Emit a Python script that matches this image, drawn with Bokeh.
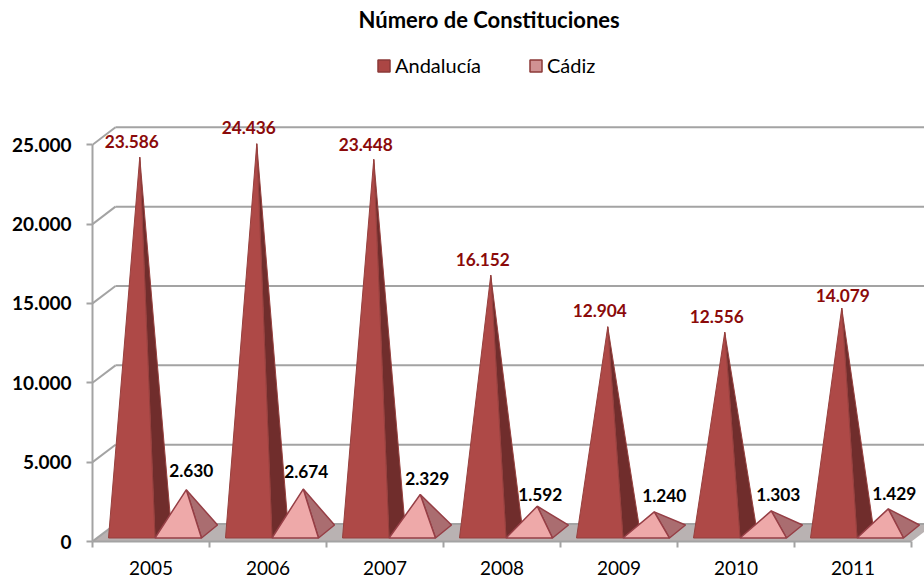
from bokeh.plotting import figure
from bokeh.embed import file_html
from bokeh.resources import INLINE
from bokeh.core.properties import value
from bokeh.models import (ColumnDataSource, Range1d, LinearAxis, FixedTicker, Legend, LegendItem, Title)

years = ["2005", "2006", "2007", "2008", "2009", "2010", "2011"]
andalucia = [23586, 24436, 23448, 16152, 12904, 12556, 14079]
cadiz = [2630, 2674, 2329, 1592, 1240, 1303, 1429]
y_ticks = [0, 5000, 10000, 15000, 20000, 25000]
y_tick_labels = ["0", "5.000", "10.000", "15.000", "20.000", "25.000"]

# pixel nudges of the hand-placed data labels
and_nudge_x = [0, 0, 0, 0, 0, 0, 9]
and_nudge_y = [16, 16, 15, 16, 16, 16, 13]
cad_nudge_x = [5, 3, 7, 3, 10, 7, 6]
cad_nudge_y = [19, 18, 16, 12, 16, 16, 15]

FONT = "Lato"
PX_X = 117.0            # pixels per category
PX_Y = 79.5 / 5000.0    # pixels per unit
WALL_X, WALL_Y = 23 / PX_X, 17.5 / PX_Y       # depth of the chart box
DEP_X, DEP_Y = 16 / PX_X, 13 / PX_Y           # depth of a pyramid base
GAP = 16 / PX_X
BAR = 46.5 / PX_X
LIFT = 3.5 / PX_Y

p = figure(width=924, height=577, output_backend="svg", toolbar_location=None,
           x_axis_type=None, y_axis_type=None,
           x_range=Range1d(0, 832 / PX_X), y_range=Range1d(0, 507 / PX_Y),
           min_border_left=92, min_border_right=0, min_border_top=34, min_border_bottom=36,
           outline_line_color=None, background_fill_color="white", border_fill_color="white")
p.xgrid.visible = False
p.ygrid.visible = False
p.styles = {"position": "absolute", "left": "0px", "top": "0px"}

p.title = Title(text="Número de Constituciones", align="left", offset=266,
                text_font=FONT, text_font_size="22px", text_font_style="bold",
                text_color="black", standoff=6)

GREY = "#a3a3a3"
n = len(years)
# floor
p.patch([0, WALL_X, n + WALL_X, n], [0, WALL_Y, WALL_Y, 0], fill_color="#b9b2b2", line_color=None)
# back wall lines and side wall lines
p.segment([WALL_X] * len(y_ticks), [t + WALL_Y for t in y_ticks],
          [n + WALL_X] * len(y_ticks), [t + WALL_Y for t in y_ticks], line_color=GREY, line_width=2)
p.segment([0] * len(y_ticks), y_ticks, [WALL_X] * len(y_ticks), [t + WALL_Y for t in y_ticks],
          line_color=GREY, line_width=2)


def pyramids(values, slot):
    fx, fy, sx, sy = [], [], [], []
    for i, v in enumerate(values):
        x0 = i + GAP + slot * BAR
        x1 = x0 + BAR
        ax = (x0 + x1) / 2 + DEP_X / 2
        ay = LIFT + DEP_Y / 2 + v
        fx.append([x0, x1, ax])
        fy.append([LIFT, LIFT, ay])
        sx.append([x1, x1 + DEP_X, ax])
        sy.append([LIFT, LIFT + DEP_Y, ay])
    return fx, fy, sx, sy


for i in range(n):
    for slot, vals, cf, cs, edge in [(0, andalucia, "#ae4947", "#702d2c", "#96403e"),
                                     (1, cadiz, "#eea9a9", "#aa6d70", "#963f46")]:
        fx, fy, sx, sy = pyramids(vals, slot)
        p.patch(sx[i], sy[i], fill_color=cs, line_color=edge, line_width=1.5 if slot else 1)
        p.patch(fx[i], fy[i], fill_color=cf, line_color=edge, line_width=1.5 if slot else 1)

# data labels
and_src = ColumnDataSource(dict(
    x=[i + GAP + BAR / 2 for i in range(n)], y=[v + LIFT + DEP_Y / 2 for v in andalucia],
    t=[f"{v:,}".replace(",", ".") for v in andalucia],
    dx=and_nudge_x, dy=[-d for d in and_nudge_y]))
p.text("x", "y", text="t", source=and_src, x_offset="dx", y_offset="dy", text_align="center",
       text_baseline="middle", text_color="#8b0a0a", text_font=value(FONT),
       text_font_style="bold", text_font_size="17.3px")
cad_src = ColumnDataSource(dict(
    x=[i + GAP + 1.5 * BAR + DEP_X / 2 for i in range(n)], y=[v + LIFT + DEP_Y / 2 for v in cadiz],
    t=[f"{v:,}".replace(",", ".") for v in cadiz],
    dx=cad_nudge_x, dy=[-d for d in cad_nudge_y]))
p.text("x", "y", text="t", source=cad_src, x_offset="dx", y_offset="dy", text_align="center",
       text_baseline="middle", text_color="black", text_font=value(FONT),
       text_font_style="bold", text_font_size="17.3px")

# axes
yax = LinearAxis(ticker=FixedTicker(ticks=y_ticks), bounds=(0, 25000),
                 major_label_overrides=dict(zip(y_ticks, y_tick_labels)),
                 axis_line_color=GREY, axis_line_width=2, major_tick_line_color=GREY,
                 major_tick_line_width=2, major_tick_in=0, major_tick_out=6, minor_tick_line_color=None,
                 major_label_text_font=FONT, major_label_text_font_style="bold",
                 major_label_text_font_size="19px", major_label_text_color="black",
                 major_label_standoff=15)
p.add_layout(yax, "left")
centres = [i + 0.5 for i in range(n)]
xax = LinearAxis(ticker=FixedTicker(ticks=centres, minor_ticks=list(range(n + 1))), bounds=(0, n),
                 major_label_overrides=dict(zip(centres, years)),
                 axis_line_color=GREY, axis_line_width=2, major_tick_line_color=None,
                 minor_tick_line_color=GREY, minor_tick_line_width=2, minor_tick_in=0, minor_tick_out=6,
                 major_label_text_font=FONT, major_label_text_font_size="19px",
                 major_label_text_color="black", major_label_standoff=13)
p.add_layout(xax, "below")

# legend: swatches only, the renderers draw nothing in the plot area
nan = float("nan")
swatch = ColumnDataSource(dict(l=[nan], r=[nan], t=[nan], b=[nan]))
r1 = p.quad(left="l", right="r", top="t", bottom="b", source=swatch, fill_color="#ab4644", line_color="#8c3a38", line_width=1.5)
r2 = p.quad(left="l", right="r", top="t", bottom="b", source=swatch, fill_color="#d09293", line_color="#8c3a38", line_width=1.5)
legend = Legend(items=[LegendItem(label="Andalucía", renderers=[r1]), LegendItem(label="Cádiz", renderers=[r2])],
                orientation="horizontal", location=(284, 464), glyph_width=15, glyph_height=15,
                label_text_font=FONT, label_text_font_size="20px", label_text_color="black",
                label_standoff=4, spacing=47, padding=0, margin=0, background_fill_alpha=0, border_line_color=None)
p.add_layout(legend, "center")

open("out.html", "w").write(file_html(p, INLINE))
